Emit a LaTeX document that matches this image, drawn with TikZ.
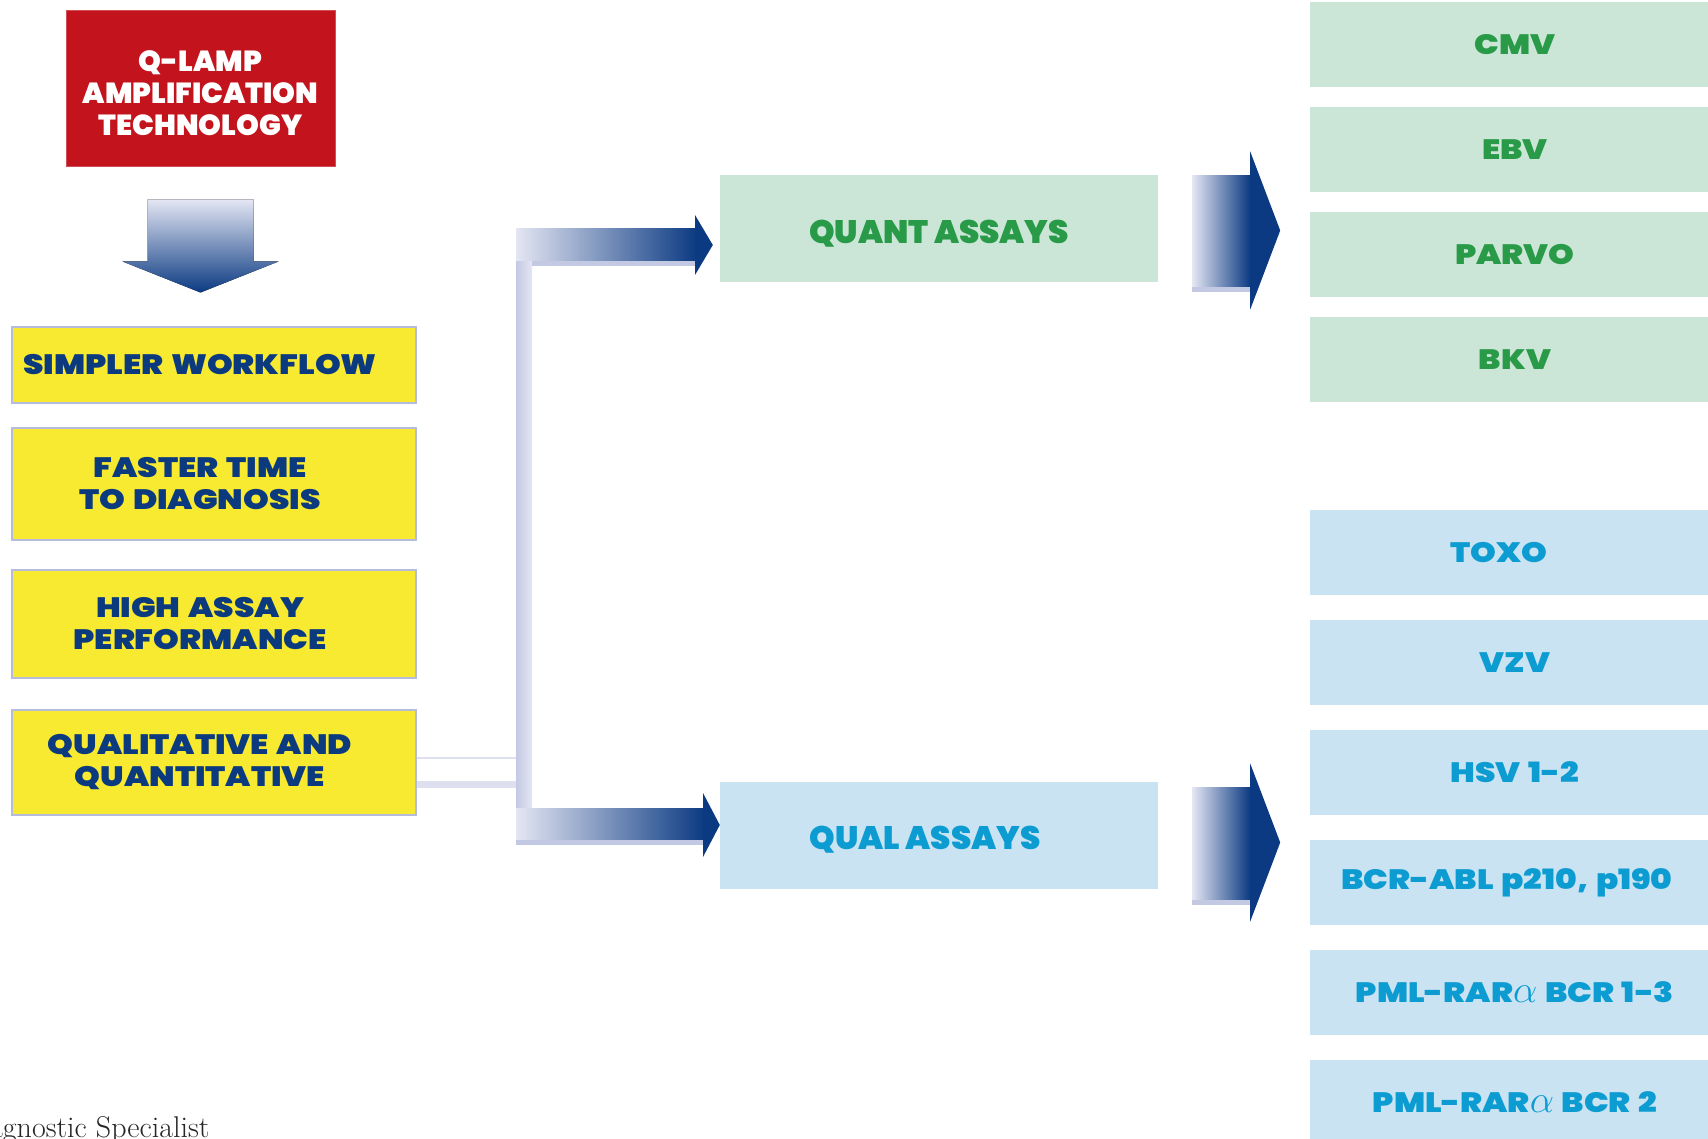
\documentclass[tikz,border=0pt]{standalone}
\usepackage{fontspec}
\usepackage{graphicx}
\newfontfamily\heavyfont{Poppins}[UprightFont=* Black]
\newfontfamily\widefont{Poppins}[UprightFont=* Black, FakeStretch=1.17, WordSpace=1.4]
\usetikzlibrary{calc}

\definecolor{qred}{HTML}{C3131C}
\definecolor{qyellow}{HTML}{F8E931}
\definecolor{navytxt}{HTML}{0B3A7F}
\definecolor{navy}{HTML}{0B3A82}
\definecolor{haze}{HTML}{E4E6F3}
\definecolor{lilac}{HTML}{B5BBDC}
\definecolor{qgreenbg}{HTML}{CBE6D6}
\definecolor{qgreentxt}{HTML}{289A48}
\definecolor{qbluebg}{HTML}{C9E3F2}
\definecolor{qbluetxt}{HTML}{0C9CD1}

\newcommand\ralpha{\scalebox{1.55}{$\alpha$}}

\tikzset{every node/.style={inner sep=0pt},
  tile/.style={rectangle, align=center, font=\widefont\fontsize{28}{32}\selectfont},
  redtile/.style={tile, fill=qred, draw=qred!75!white, line width=1pt, minimum width=269pt, minimum height=156pt},
  redtext/.style={align=center, text=white, font=\heavyfont\fontsize{29}{32}\selectfont},
  yellowtile/.style={tile, fill=qyellow, draw=lilac, line width=1.5pt, minimum width=404pt},
  navytext/.style={align=center, text=navytxt, font=\widefont\fontsize{28}{32}\selectfont},
  assaytile/.style={tile, minimum width=438pt, minimum height=107pt},
  assaytext/.style={font=\heavyfont\fontsize{32.5}{36}\selectfont},
  greentile/.style={tile, fill=qgreenbg, text=qgreentxt, minimum width=410pt, minimum height=85pt},
  bluetile/.style={tile, fill=qbluebg, minimum width=410pt, minimum height=85pt},
  bluetext/.style={text=qbluetxt, font=\widefont\fontsize{28}{32}\selectfont}}

\newcommand\fatarrow[1]{%
  \begin{scope}[shift={(#1)}]
    \fill[left color=haze, right color=navy] (34,-53) rectangle (92,59);
    \fill[lilac!80] (34,59) rectangle (92,64);
    \fill[navy] (92,-77) -- (122,2) -- (92,81) -- cycle;
  \end{scope}}

\begin{document}
\begin{tikzpicture}[x=1pt, y=-1pt]
  \fill[white] (0,0) rectangle (1708,1139);
  \useasboundingbox (0,0) rectangle (1708,1139);

  % left column
  \node[redtile, label={[redtext, yshift=-4.5pt]center:Q-LAMP\\AMPLIFICATION\\TECHNOLOGY}] (qlamp) at (200.5,89) {};
  \node[yellowtile, minimum height=76pt, label={[navytext, xshift=-14pt]center:SIMPLER WORKFLOW}] (simpler) at (214,365) {};
  \node[yellowtile, minimum height=112pt, label={[navytext, xshift=-14pt]center:FASTER TIME\\TO DIAGNOSIS}] (faster) at (214,484) {};
  \node[yellowtile, minimum height=108pt, label={[navytext, xshift=-14pt]center:HIGH ASSAY\\PERFORMANCE}] (high) at (214,624) {};
  \node[yellowtile, minimum height=105pt, label={[navytext, xshift=-14pt]center:QUALITATIVE AND\\QUANTITATIVE}] (qualquant) at (214,762.5) {};

  \begin{scope}[shift={(qlamp.south)}]
    \fill[top color=haze, bottom color=navy] (-53,32) -- (53,32) -- (53,94) -- (78,94) -- (0,125) -- (-78,94) -- (-53,94) -- cycle;
  \end{scope}

  % middle
  \node[assaytile, fill=qgreenbg, label={[assaytext, text=qgreentxt, yshift=-5pt]center:QUANT ASSAYS}] (quant) at (939,228.5) {};
  \node[assaytile, fill=qbluebg, label={[assaytext, text=qbluetxt, xshift=-14pt, yshift=-4.5pt]center:QUAL ASSAYS}] (qual) at (939,835.5) {};

  % fork
  \coordinate (spinetop) at (516,229);
  \coordinate (spinebot) at (532,842);
  \fill[lilac!45] (qualquant.east |- 0,757) rectangle (spinetop |- 0,788);
  \fill[white] (qualquant.east |- 0,758.5) rectangle (spinetop |- 0,781);
  \fill[left color=lilac!80, right color=haze] (spinetop) rectangle (spinebot);

  \fill[left color=haze, right color=navy] (spinetop) rectangle (697,261);
  \fill[lilac!80] (532,261) rectangle (695,266);
  \fill[navy] (695,215) -- ($(quant.west)+(-7,16.5)$) -- (695,275) -- cycle;

  \fill[left color=haze, right color=navy] (516,808) rectangle (705,840);
  \fill[lilac!80] (516,840) rectangle (703,845);
  \fill[navy] (703,793) -- ($(qual.west)+(0,-10.5)$) -- (703,857) -- cycle;

  \fatarrow{quant.east}
  \fatarrow{$(qual.east)+(0,5)$}

  % right column
  \foreach \name [count=\i] in {CMV,EBV,PARVO,BKV}
    \node[greentile] (green\i) at (1515,{44.5+105*(\i-1)}) {\name};
  \foreach \name/\dx [count=\i] in {TOXO/-16,VZV/0,HSV 1-2/0,{BCR-ABL p210, p190}/-8,PML-RAR\ralpha{} BCR 1-3/0,PML-RAR\ralpha{} BCR 2/0}
    \node[bluetile, label={[bluetext, xshift=\dx pt]center:\name}] (blue\i) at (1515,{552.5+110*(\i-1)}) {};

  \node[anchor=base west, font=\rmfamily\fontsize{30}{36}\selectfont, text=black!85] (footer) at (-11,1137) {agnostic Specialist};
\end{tikzpicture}
\end{document}
